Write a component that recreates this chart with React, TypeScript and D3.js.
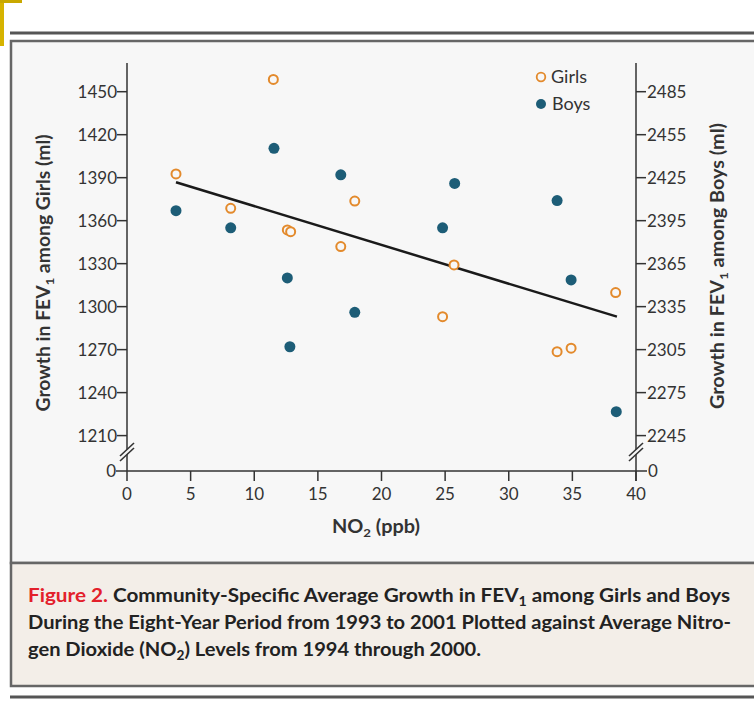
import React from 'react';
import * as d3 from 'd3';

// NO2 level (ppb) for each of the 12 communities
const girlsNO2 = [3.85, 8.15, 11.5, 12.6, 12.86, 16.8, 17.9, 24.8, 25.7, 33.8, 34.9, 38.4];
const girlsFEV = [1392.6, 1368.6, 1458.6, 1353.5, 1352.3, 1341.9, 1373.7, 1293, 1329.1, 1268.6, 1271, 1309.8];
const boysNO2 = [3.85, 8.15, 11.55, 12.6, 12.8, 16.8, 17.9, 24.8, 25.75, 33.8, 34.9, 38.45];
const boysFEV = [2402, 2390, 2445.5, 2355, 2307, 2427, 2331, 2390, 2421, 2409, 2353.6, 2261.7];
const trendNO2 = [3.85, 38.5];
const trendFEV = [1386.8, 1293];

const xTicks = [0, 5, 10, 15, 20, 25, 30, 35, 40];
const girlsTicks = [1210, 1240, 1270, 1300, 1330, 1360, 1390, 1420, 1450];
const boysTicks = [2245, 2275, 2305, 2335, 2365, 2395, 2425, 2455, 2485];

const ORANGE = '#e38a2c';
const TEAL = '#1d5d77';
const INK = '#333';
const FONT = 'Lato, "Open Sans", sans-serif';

const App: React.FC = () => {
  const x = d3.scaleLinear().domain([0, 40]).range([127, 636]);
  const yG = d3.scaleLinear().domain([1210, 1450]).range([435.6, 91.7]);
  const yB = d3.scaleLinear().domain([2245, 2485]).range([435.6, 91.7]);
  const zeroY = 471;
  const top = 63;
  const left = x(0);
  const right = x(40);

  const trend = d3.line<number>()
    .x((d) => x(d))
    .y((_, i) => yG(trendFEV[i]));

  // two little slashes marking the axis break
  const breakMark = (cx: number, key: string) => (
    <g key={key}>
      <polygon points={`${cx - 6},${455} ${cx + 6},${444} ${cx + 6},${449} ${cx - 6},${460}`} fill="#f7f7f7" />
      <line x1={cx - 7} y1={456} x2={cx + 7} y2={443} stroke={INK} strokeWidth={1.6} />
      <line x1={cx - 7} y1={461} x2={cx + 7} y2={448} stroke={INK} strokeWidth={1.6} />
    </g>
  );

  return (
    <div style={{ position: 'absolute', left: 0, top: 0 }}>
      <svg width={754} height={719} style={{ display: 'block', background: '#fff' }}>
        {/* scan artefact top-left */}
        <rect x={0} y={0} width={4} height={46} fill="#d6b300" />
        <rect x={0} y={0} width={22} height={3} fill="#c9a800" />

        <line x1={10} y1={33} x2={754} y2={33} stroke="#555" strokeWidth={3} />
        <rect x={11} y={41} width={760} height={522} fill="#f7f7f7" stroke="#666" strokeWidth={2.5} />
        <rect x={11} y={563} width={760} height={123} fill="#f3eee8" stroke="#666" strokeWidth={2.5} />
        <line x1={10} y1={697} x2={754} y2={697} stroke="#555" strokeWidth={3} />

        {/* axes */}
        <g stroke={INK} strokeWidth={1.5} fill="none">
          <line x1={left} y1={top} x2={left} y2={zeroY} />
          <line x1={right} y1={top} x2={right} y2={zeroY + 10} />
          <line x1={left} y1={zeroY} x2={right} y2={zeroY} />
          <line x1={left - 11} y1={zeroY} x2={left} y2={zeroY} />
          <line x1={right} y1={zeroY} x2={right + 11} y2={zeroY} />
        </g>
        {breakMark(left, 'bl')}
        {breakMark(right, 'br')}

        <g fontFamily={FONT} fontSize={17} fill={INK}>
          {xTicks.map((t) => (
            <g key={`x${t}`}>
              <line x1={x(t)} y1={zeroY} x2={x(t)} y2={zeroY + 10} stroke={INK} strokeWidth={1.5} />
              <text x={x(t)} y={zeroY + 29} textAnchor="middle">{t}</text>
            </g>
          ))}
          {girlsTicks.map((t) => (
            <g key={`g${t}`}>
              <line x1={left - 10} y1={yG(t)} x2={left} y2={yG(t)} stroke={INK} strokeWidth={1.5} />
              <text x={left - 10} y={yG(t) + 6} textAnchor="end">{t}</text>
            </g>
          ))}
          {boysTicks.map((t) => (
            <g key={`b${t}`}>
              <line x1={right} y1={yB(t)} x2={right + 10} y2={yB(t)} stroke={INK} strokeWidth={1.5} />
              <text x={right + 11} y={yB(t) + 6}>{t}</text>
            </g>
          ))}
          <text x={left - 11} y={zeroY + 6} textAnchor="end">0</text>
          <text x={right + 12} y={zeroY + 6}>0</text>
        </g>

        {/* axis titles */}
        <g fontFamily={FONT} fontSize={18} fontWeight="bold" fill={INK}>
          <text transform="translate(50,273) rotate(-90)" textAnchor="middle" textLength={277} lengthAdjust="spacingAndGlyphs">
            Growth in FEV<tspan fontSize={12} dy={4}>1</tspan><tspan dy={-4}> among Girls (ml)</tspan>
          </text>
          <text transform="translate(724,266) rotate(-90)" textAnchor="middle" textLength={286} lengthAdjust="spacingAndGlyphs">
            Growth in FEV<tspan fontSize={12} dy={4}>1</tspan><tspan dy={-4}> among Boys (ml)</tspan>
          </text>
          <text x={376} y={533} textAnchor="middle" textLength={88} lengthAdjust="spacingAndGlyphs">
            NO<tspan fontSize={12} dy={4}>2</tspan><tspan dy={-4}> (ppb)</tspan>
          </text>
        </g>

        {/* fitted line */}
        <path d={trend(trendNO2) ?? ''} fill="none" stroke="#1a1a1a" strokeWidth={2.5} />

        {/* points */}
        {boysNO2.map((v, i) => (
          <circle key={`pb${i}`} cx={x(v)} cy={yB(boysFEV[i])} r={5.5} fill={TEAL} />
        ))}
        {girlsNO2.map((v, i) => (
          <circle key={`pg${i}`} cx={x(v)} cy={yG(girlsFEV[i])} r={4.5} fill="#f7f7f7" stroke={ORANGE} strokeWidth={2} />
        ))}

        {/* legend */}
        <circle cx={541} cy={77} r={4.3} fill="none" stroke={ORANGE} strokeWidth={1.8} />
        <circle cx={541} cy={104} r={5} fill={TEAL} />
        <g fontFamily={FONT} fontSize={18} fill={INK}>
          <text x={551} y={83}>Girls</text>
          <text x={552} y={110}>Boys</text>
        </g>

        {/* caption */}
        <g fontFamily={FONT} fontSize={19} fontWeight="bold" fill="#222">
          <text x={28} y={602} textLength={702} lengthAdjust="spacingAndGlyphs">
            <tspan fill="#e3202b">Figure 2.</tspan> Community-Specific Average Growth in FEV<tspan fontSize={13} dy={4}>1</tspan><tspan dy={-4}> among Girls and Boys</tspan>
          </text>
          <text x={28} y={629} textLength={703} lengthAdjust="spacingAndGlyphs">
            During the Eight-Year Period from 1993 to 2001 Plotted against Average Nitro-
          </text>
          <text x={28} y={656} textLength={453} lengthAdjust="spacingAndGlyphs">
            gen Dioxide (NO<tspan fontSize={13} dy={4}>2</tspan><tspan dy={-4}>) Levels from 1994 through 2000.</tspan>
          </text>
        </g>
      </svg>
    </div>
  );
};

export default App;
